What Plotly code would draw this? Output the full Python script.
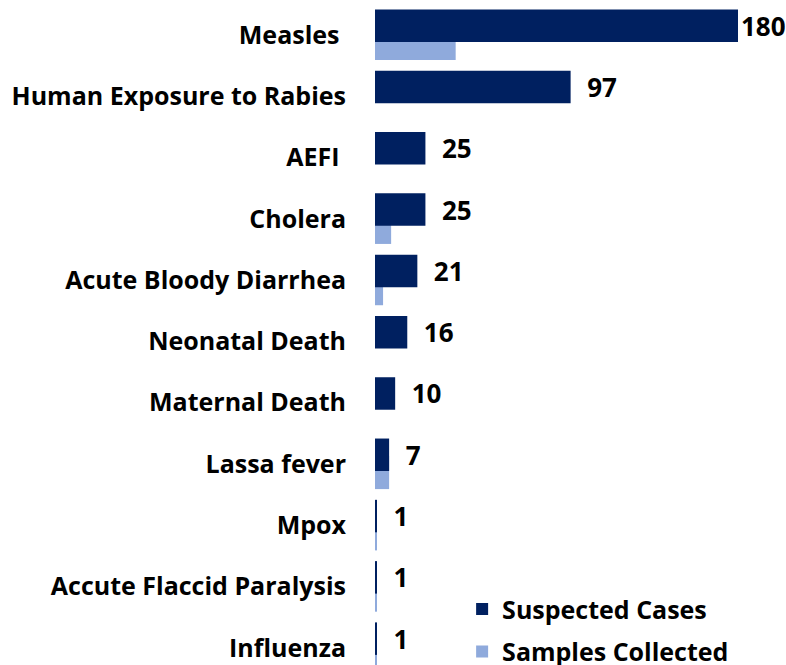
import plotly.graph_objects as go

categories = ["Measles", "Human Exposure to Rabies", "AEFI", "Cholera",
              "Acute Bloody Diarrhea", "Neonatal Death", "Maternal Death",
              "Lassa fever", "Mpox", "Accute Flaccid Paralysis", "Influenza"]
tick_labels = ["Measles\u00a0", "Human Exposure to Rabies", "AEFI\u00a0", "Cholera",
               "Acute Bloody Diarrhea", "Neonatal Death", "Maternal Death",
               "Lassa fever", "Mpox", "Accute Flaccid Paralysis", "Influenza"]
suspected = [180, 97, 25, 25, 21, 16, 10, 7, 1, 1, 1]
samples = [40, 0, 0, 8, 4, 0, 0, 7, 1, 1, 1]

DARK = "#002060"
LIGHT = "#8FAADC"
FONT = "Open Sans"

def label(v, i):
    return str(v) if i == 0 else "\u00a0\u00a0" + str(v)

fig = go.Figure()
fig.add_trace(go.Bar(
    y=categories, x=samples, orientation="h", name="Samples Collected",
    marker=dict(color=LIGHT, line=dict(width=0)),
    offset=-0.13, width=0.54, legendrank=2, legendgroup="b",
))
fig.add_trace(go.Bar(
    y=categories, x=suspected, orientation="h", name="Suspected Cases",
    marker=dict(color=DARK, line=dict(width=0)),
    offset=-0.415, width=0.53, legendrank=1, legendgroup="a",
    text=[label(v, i) for i, v in enumerate(suspected)],
    textposition="outside", constraintext="none", cliponaxis=False,
    textfont=dict(family=FONT, size=26, color="#000000", weight="bold"),
))

fig.update_layout(
    width=786, height=665,
    margin=dict(l=375, r=48, t=0, b=0, autoexpand=False),
    barmode="overlay",
    plot_bgcolor="white", paper_bgcolor="white",
    font=dict(family=FONT, size=25, color="#000000", weight="bold"),
    showlegend=True,
    legend=dict(x=0.24, y=-0.014, xanchor="left", yanchor="bottom",
                bgcolor="rgba(255,255,255,0)",
                font=dict(family=FONT, size=25, color="#000000", weight="bold"),
                tracegroupgap=7),
    xaxis=dict(range=[0, 180], showgrid=False, zeroline=False,
               showticklabels=False, showline=False, ticks=""),
    yaxis=dict(range=[10.28, -0.57], tickmode="array",
               tickvals=categories, ticktext=tick_labels,
               showgrid=False, zeroline=False, showline=False, ticks="",
               ticklabelstandoff=28, automargin=False,
               tickfont=dict(family=FONT, size=25, color="#000000", weight="bold")),
)

fig.write_html("out.html", config={"displayModeBar": False},
               post_script="document.body.style.margin='0';")
